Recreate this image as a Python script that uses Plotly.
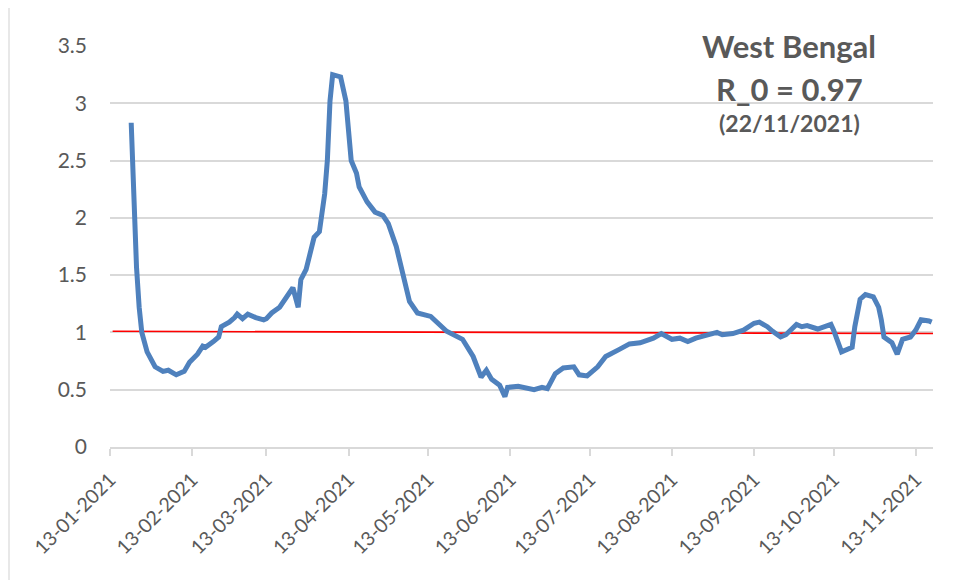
import pandas as pd
import plotly.graph_objects as go

# ---- data ----
start_date = "2021-01-13"
day_offsets = [8, 9, 10, 11, 12, 14, 17, 20, 22, 25,
               28, 30, 33, 35, 36, 39, 41, 42, 45, 47,
               48, 50, 52, 55, 58, 59, 61, 64, 66, 69,
               71, 72, 74, 75, 77, 79, 81, 82, 83, 84,
               87, 89, 90, 91, 93, 94, 97, 100, 103, 105,
               108, 111, 113, 116, 121, 127, 130, 133, 137, 140,
               142, 144, 147, 149, 150, 154, 160, 163, 165, 168,
               171, 174, 175, 177, 180, 184, 187, 192, 196, 200,
               205, 208, 210, 212, 215, 218, 221, 225, 229, 231,
               235, 239, 243, 245, 248, 250, 253, 255, 259, 261,
               263, 267, 272, 273, 275, 276, 280, 281, 283, 285,
               288, 290, 291, 292, 295, 297, 299, 302, 304, 306,
               309, 310]
r_values = [2.83, 2.15, 1.57, 1.22, 1.00, 0.83, 0.70, 0.66, 0.67, 0.63,
            0.66, 0.74, 0.81, 0.88, 0.87, 0.92, 0.96, 1.05, 1.09, 1.13,
            1.16, 1.12, 1.16, 1.13, 1.11, 1.12, 1.17, 1.22, 1.29, 1.39,
            1.22, 1.46, 1.55, 1.66, 1.83, 1.88, 2.21, 2.50, 3.02, 3.25,
            3.23, 3.02, 2.79, 2.50, 2.39, 2.27, 2.14, 2.05, 2.02, 1.95,
            1.75, 1.46, 1.27, 1.17, 1.14, 1.01, 0.97, 0.94, 0.79, 0.61,
            0.67, 0.59, 0.54, 0.44, 0.52, 0.53, 0.50, 0.52, 0.51, 0.64,
            0.69, 0.69, 0.70, 0.63, 0.62, 0.70, 0.79, 0.85, 0.90, 0.91,
            0.95, 0.99, 0.97, 0.94, 0.95, 0.92, 0.95, 0.97, 1.00, 0.98,
            0.99, 1.02, 1.08, 1.09, 1.05, 1.01, 0.96, 0.98, 1.07, 1.05,
            1.06, 1.03, 1.07, 1.02, 0.89, 0.83, 0.87, 1.05, 1.29, 1.33,
            1.31, 1.22, 1.11, 0.96, 0.91, 0.81, 0.94, 0.96, 1.02, 1.11,
            1.10, 1.09]

ref_line_days = [1, 312]
ref_line_values = [1.01, 0.99]

tick_dates = ["2021-01-13", "2021-02-13", "2021-03-13", "2021-04-13", "2021-05-13",
              "2021-06-13", "2021-07-13", "2021-08-13", "2021-09-13", "2021-10-13",
              "2021-11-13"]
tick_labels = ["13-01-2021", "13-02-2021", "13-03-2021", "13-04-2021", "13-05-2021",
               "13-06-2021", "13-07-2021", "13-08-2021", "13-09-2021", "13-10-2021",
               "13-11-2021"]
y_ticks = [0, 0.5, 1, 1.5, 2, 2.5, 3, 3.5]
y_tick_labels = ["0", "0.5", "1", "1.5", "2", "2.5", "3", "3.5"]

title_lines = ["West Bengal", "R_0 = 0.97", "(22/11/2021)"]

# ---- build ----
base = pd.Timestamp(start_date)
x_dates = base + pd.to_timedelta(day_offsets, unit="D")
ref_dates = base + pd.to_timedelta(ref_line_days, unit="D")
x_end = base + pd.to_timedelta(310.5, unit="D")

FONT = "Lato"
GREY = "#595959"

# the page body adds an 8px margin; size the figure to fit the window
OFF = 8
W, H = 959 - OFF, 580 - OFF
PL, PR, PT, PB = 110 - OFF, 933 - OFF, 46 - OFF, 447 - OFF  # plot area in figure px
pw, ph = PR - PL, PB - PT


def px(xs):
    return (xs - OFF - PL) / pw


def py(ys):
    return (PB - (ys - OFF)) / ph


fig = go.Figure()
fig.add_trace(go.Scatter(x=ref_dates, y=ref_line_values, mode="lines",
                         line=dict(color="#ff0000", width=1.6), showlegend=False))
fig.add_trace(go.Scatter(x=x_dates, y=r_values, mode="lines",
                         line=dict(color="#4f81bd", width=5), showlegend=False))

fig.update_layout(
    width=W, height=H,
    margin=dict(l=PL, r=W - PR, t=PT, b=H - PB),
    paper_bgcolor="white", plot_bgcolor="white",
    font=dict(family=FONT, color=GREY),
    showlegend=False,
)
fig.update_xaxes(
    type="date", range=[base, x_end],
    tickvals=pd.to_datetime(tick_dates), ticktext=tick_labels,
    tickangle=-45, tickfont=dict(size=19.5, color=GREY, family=FONT),
    showgrid=False, showline=True, linecolor="#d9d9d9", linewidth=1.5,
    ticks="outside", ticklen=7, tickcolor="#d9d9d9", tickwidth=1.5,
    ticklabelstandoff=5, zeroline=False,
)
fig.update_yaxes(
    range=[0, 3.5], tickvals=y_ticks, ticktext=y_tick_labels,
    tickfont=dict(size=21, color=GREY, family=FONT),
    showgrid=True, gridcolor="#d9d9d9", gridwidth=1.5,
    zeroline=False, showline=False, ticks="", ticklabelstandoff=22,
)

# chart border (left and top edges visible in the reference)
fig.add_shape(type="rect", xref="paper", yref="paper",
              x0=px(9), x1=px(990), y0=py(620), y1=py(6),
              line=dict(color="#d9d9d9", width=1.2), layer="below")

ann_y = [py(46), py(89), py(123)]
ann_size = [31, 31, 23]
for txt, yy, sz in zip(title_lines, ann_y, ann_size):
    fig.add_annotation(text="<b>%s</b>" % txt, xref="paper", yref="paper",
                       x=px(789), y=yy, xanchor="center", yanchor="middle",
                       showarrow=False, font=dict(size=sz, color=GREY, family=FONT))

fig.write_html("out.html")
